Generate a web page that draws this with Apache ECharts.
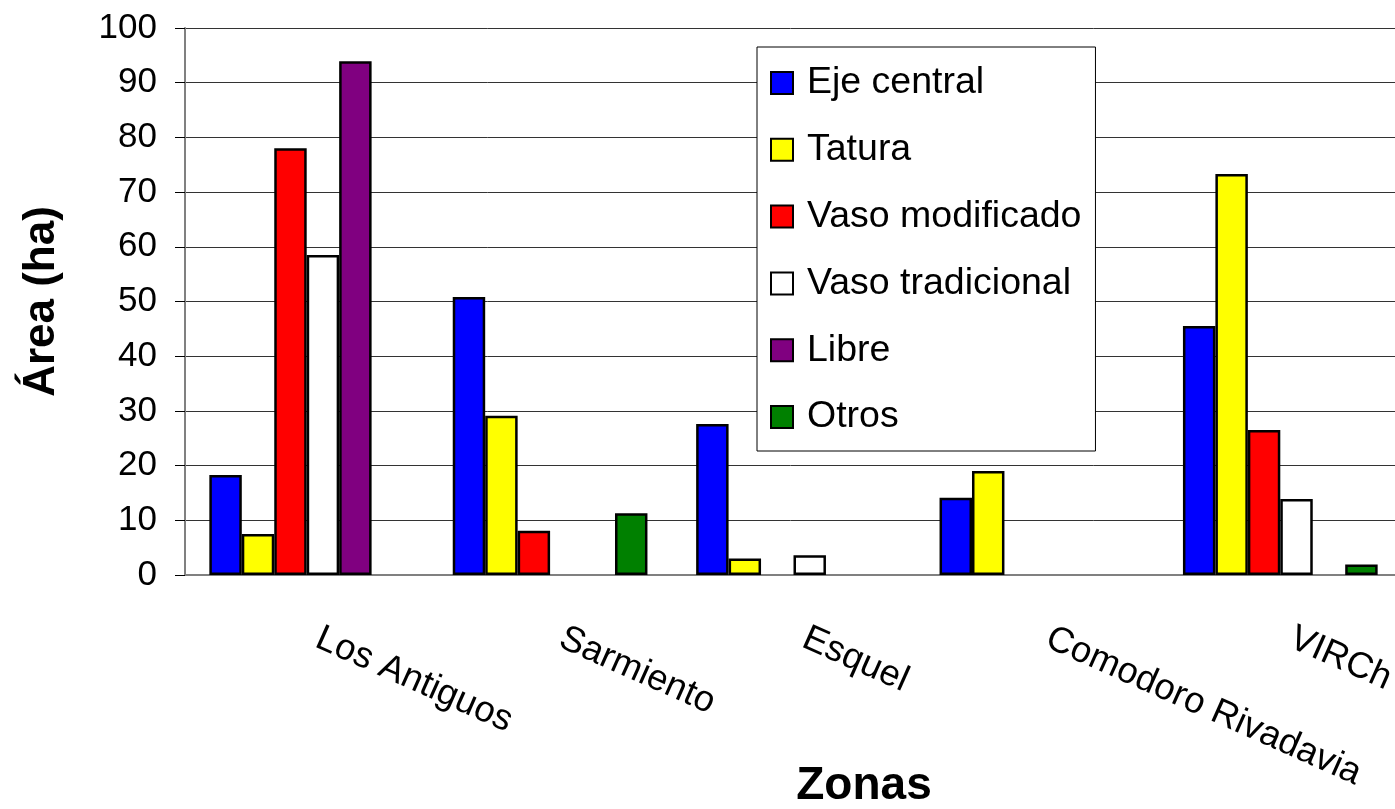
<!DOCTYPE html>
<html>
<head>
<meta charset="utf-8">
<script src="https://cdn.jsdelivr.net/npm/echarts@6/dist/echarts.min.js"></script>
<style>
html, body { margin: 0; padding: 0; background: #fff; }
#chart { width: 1395px; height: 809px; }
</style>
</head>
<body>
<div id="chart"></div>
<script>
var zonas = ['Los Antiguos', 'Sarmiento', 'Esquel', 'Comodoro Rivadavia', 'VIRCh'];
var ejeCentral = [18.3, 50.8, 27.6, 14.1, 45.5];
var tatura = [7.5, 29.1, 3.0, 19.0, 73.3];
var vasoModificado = [78.0, 8.1, 0, 0, 26.5];
var vasoTradicional = [58.5, 0, 3.6, 0, 13.9];
var libre = [93.9, 0, 0, 0, 0];
var otros = [0, 11.3, 0, 0, 1.9];
var yTicks = [0, 10, 20, 30, 40, 50, 60, 70, 80, 90, 100];

var fontFam = '"Liberation Sans", Arial, sans-serif';

function barSerie(name, data, color) {
  return {
    name: name,
    type: 'bar',
    barGap: 0,
    barCategoryGap: '20%',
    // los ceros no se dibujan
    data: data.map(function (v) { return v === 0 ? '-' : v; }),
    itemStyle: { color: color, borderColor: '#000', borderWidth: 2.5 },
    emphasis: { disabled: true }
  };
}

var chart = echarts.init(document.getElementById('chart'));
chart.setOption({
  animation: false,
  textStyle: { fontFamily: fontFam },
  grid: { left: 185, top: 28, width: 1217, bottom: 234, containLabel: false, outerBoundsMode: 'none' },
  legend: {
    orient: 'vertical',
    left: 757,
    top: 47,
    padding: [17, 14, 15, 13],
    backgroundColor: '#fff',
    borderColor: '#000',
    borderWidth: 1,
    itemWidth: 22,
    itemHeight: 22,
    itemGap: 28.8,
    icon: 'rect',
    selectedMode: false,
    itemStyle: { borderColor: '#000', borderWidth: 2 },
    textStyle: { fontSize: 37.5, lineHeight: 36, color: '#000', fontFamily: fontFam, padding: [0, 0, 0, 9] }
  },
  xAxis: {
    type: 'category',
    data: zonas,
    axisLine: { lineStyle: { color: '#808080', width: 2 } },
    axisTick: { length: 10, lineStyle: { color: '#808080', width: 1.5 } },
    axisLabel: {
      rotate: -24,
      fontSize: 36.5,
      color: '#000',
      margin: 57,
      padding: [0, 0, 0, 12],
      interval: 0,
      fontFamily: fontFam
    }
  },
  yAxis: {
    type: 'value',
    min: yTicks[0],
    max: yTicks[yTicks.length - 1],
    interval: 10,
    name: 'Área (ha)',
    nameLocation: 'middle',
    nameRotate: 90,
    nameGap: 121,
    nameTextStyle: { fontSize: 44, fontWeight: 'bold', color: '#000', fontFamily: fontFam },
    axisLine: { show: true, lineStyle: { color: '#808080', width: 2 } },
    axisTick: { show: true, length: 10, lineStyle: { color: '#000', width: 1 } },
    axisLabel: { fontSize: 35, color: '#000', margin: 28, fontFamily: fontFam },
    splitLine: { show: true, lineStyle: { color: '#333', width: 1 } }
  },
  graphic: [{
    type: 'text',
    x: 864,
    y: 786,
    style: {
      text: 'Zonas',
      font: 'bold 46px "Liberation Sans", Arial, sans-serif',
      fill: '#000',
      textAlign: 'center',
      textVerticalAlign: 'middle'
    }
  }],
  series: [
    barSerie('Eje central', ejeCentral, '#0000ff'),
    barSerie('Tatura', tatura, '#ffff00'),
    barSerie('Vaso modificado', vasoModificado, '#ff0000'),
    barSerie('Vaso tradicional', vasoTradicional, '#ffffff'),
    barSerie('Libre', libre, '#800080'),
    barSerie('Otros', otros, '#008000')
  ]
});
</script>
</body>
</html>
